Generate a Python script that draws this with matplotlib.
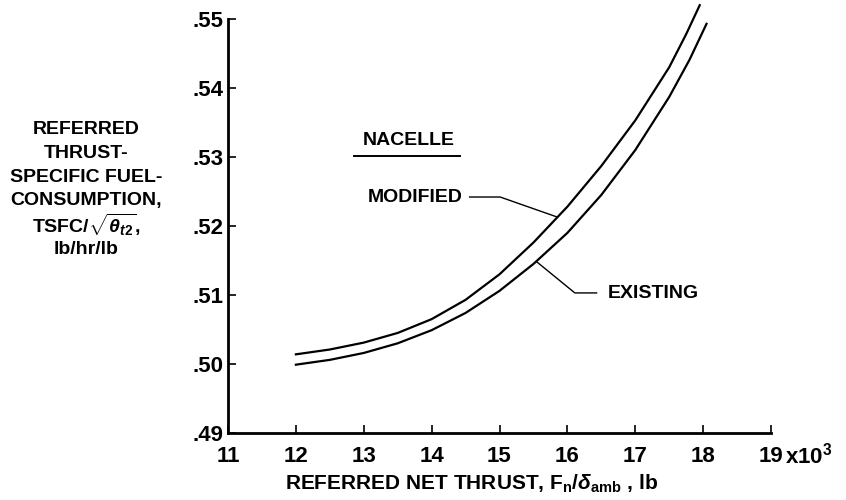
import matplotlib
matplotlib.use('Agg')
import matplotlib.pyplot as plt

# TSFC curves
thrust_mod = [12.0, 12.5, 13.0, 13.5, 14.0, 14.5, 15.0, 15.5, 16.0, 16.5, 17.0, 17.5, 17.75, 17.95]
tsfc_mod = [.5014, .5021, .5031, .5045, .5065, .5093, .5130, .5176, .5228, .5287, .5353, .5430, .5478, .5520]

thrust_ex = [12.0, 12.5, 13.0, 13.5, 14.0, 14.5, 15.0, 15.5, 16.0, 16.5, 17.0, 17.5, 17.8, 18.05]
tsfc_ex = [.4999, .5006, .5016, .5030, .5049, .5074, .5106, .5145, .5190, .5245, .5310, .5387, .5441, .5493]

xticks = [11, 12, 13, 14, 15, 16, 17, 18, 19]
yticks = [.49, .50, .51, .52, .53, .54, .55]

plt.rcParams['font.family'] = ['Liberation Sans', 'DejaVu Sans']
plt.rcParams['font.weight'] = 'bold'
plt.rcParams['mathtext.fontset'] = 'custom'
plt.rcParams['mathtext.rm'] = 'Liberation Sans:bold'
plt.rcParams['mathtext.it'] = 'Liberation Sans:bold:italic'
plt.rcParams['mathtext.bf'] = 'Liberation Sans:bold'

fig = plt.figure(figsize=(8.46, 5.0), dpi=100)
ax = fig.add_axes([228/846, 1-433/500, (771-228)/846, (433-19)/500])

ax.plot(thrust_mod, tsfc_mod, color='black', lw=1.6, clip_on=False)
ax.plot(thrust_ex, tsfc_ex, color='black', lw=1.6, clip_on=False)

ax.set_xlim(11, 19)
ax.set_ylim(.49, .55)
ax.set_xticks(xticks)
ax.set_xticklabels([str(v) for v in xticks])
ax.set_yticks(yticks)
ax.set_yticklabels([('%.2f' % v).lstrip('0') for v in yticks])
ax.tick_params(direction='in', length=6, width=1.2, labelsize=16)
ax.tick_params(axis='x', pad=9)
ax.tick_params(axis='y', pad=3)
for s in ['top', 'right']:
    ax.spines[s].set_visible(False)
for s in ['left', 'bottom']:
    ax.spines[s].set_linewidth(2)

# x10^3 next to the last tick label
ax.text(1.025, -0.024, r'x10$^{3}$', transform=ax.transAxes, fontsize=16,
        ha='left', va='top')

# nacelle labels
ax.text(13.66, .5324, 'NACELLE', fontsize=14, ha='center', va='center')
ax.plot([12.85, 14.42], [.5302, .5302], color='black', lw=1.4)
ax.text(14.46, .5242, 'MODIFIED', fontsize=14, ha='right', va='center')
ax.plot([14.56, 15.01, 15.85], [.5242, .5242, .5213], color='black', lw=1.0)
ax.text(16.6, .5102, 'EXISTING', fontsize=14, ha='left', va='center')
ax.plot([15.55, 16.11, 16.43], [.5148, .5103, .5103], color='black', lw=1.0)

# axis titles
fig.text(472/846, 1-484/500,
         r'REFERRED NET THRUST, F$_\mathrm{n}$/$\delta_\mathrm{amb}$ , lb',
         fontsize=15, ha='center', va='center')
ylines = ['REFERRED', 'THRUST-', 'SPECIFIC FUEL-', 'CONSUMPTION,',
          r'TSFC/$\sqrt{\theta_{t2}}$,', 'lb/hr/lb']
ypos = [130, 154, 178, 201, 225, 250]
for txt, yp in zip(ylines, ypos):
    fig.text(86/846, 1-yp/500, txt, fontsize=14, ha='center', va='center')

plt.savefig('out.png', dpi=100)
